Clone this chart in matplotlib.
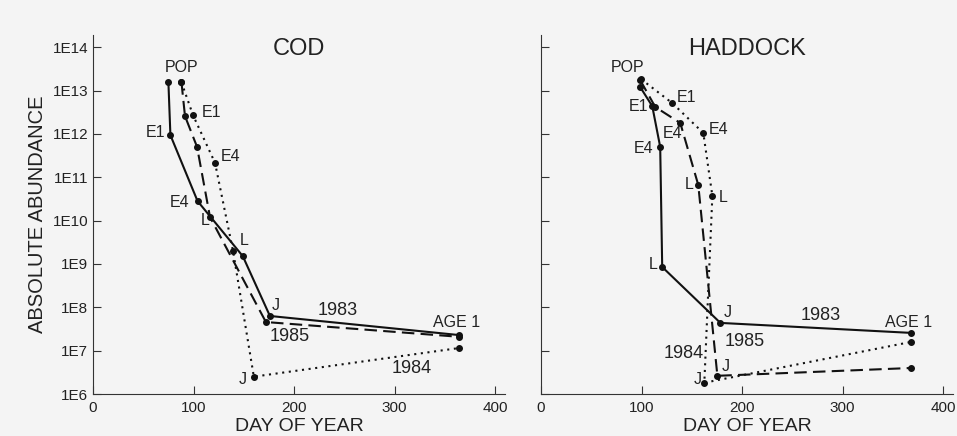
import matplotlib.pyplot as plt
import numpy as np

plt.rcParams['font.family'] = ['Liberation Sans', 'DejaVu Sans']

stages = ['POP', 'E1', 'E4', 'L', 'J', 'AGE 1']

# COD: day of year and log10 abundance per stage
cod_day_1983 = [75, 77, 104, 149, 176, 364]
cod_log_1983 = [13.19, 11.97, 10.45, 9.18, 7.80, 7.36]
cod_day_1985 = [88, 91.5, 103.5, 116.4, 172, 364]
cod_log_1985 = [13.19, 12.41, 11.70, 10.08, 7.66, 7.32]
cod_day_1984 = [88, 99.5, 121.4, 139.3, 160, 364]
cod_log_1984 = [13.19, 12.43, 11.33, 9.30, 6.40, 7.06]

# HADDOCK
had_day_1983 = [98.7, 110.7, 118.6, 120.6, 178.5, 368]
had_log_1983 = [13.08, 12.64, 11.70, 8.93, 7.64, 7.41]
had_day_1985 = [98.7, 113.7, 138.6, 156.5, 175.5, 368]
had_log_1985 = [13.24, 12.62, 12.25, 10.82, 6.42, 6.60]
had_day_1984 = [99.7, 130.6, 161.5, 170.5, 162.5, 368]
had_log_1984 = [13.26, 12.71, 12.02, 10.57, 6.26, 7.20]

# text labels (text, day, log10)
cod_labels = [('POP', 87.6, 13.52), ('E1', 61.7, 12.02), ('E1', 118, 12.50),
              ('E4', 137, 11.47), ('E4', 86.6, 10.41), ('L', 111.4, 10.01),
              ('L', 150, 9.55), ('J', 182, 8.03), ('AGE 1', 362, 7.66),
              ('J', 149, 6.33)]
cod_years = [('1983', 243, 7.92), ('1985', 196, 7.32), ('1984', 317, 6.58)]

had_labels = [('POP', 85.7, 13.54), ('E1', 96.7, 12.64), ('E1', 144.6, 12.85),
              ('E4', 131, 12.0), ('E4', 176.5, 12.09), ('E4', 101.7, 11.67),
              ('L', 147.6, 10.84), ('L', 181.5, 10.54), ('L', 111.7, 8.98),
              ('J', 185.4, 7.89), ('AGE 1', 366, 7.66), ('J', 183.4, 6.63),
              ('J', 155.5, 6.33)]
had_years = [('1983', 278, 7.80), ('1985', 203, 7.2), ('1984', 141.6, 6.93)]

ytick_exp = [6, 7, 8, 9, 10, 11, 12, 13, 14]
ytick_labels = ['1E%d' % e for e in ytick_exp]

bg = '#f4f4f4'
fig = plt.figure(figsize=(9.57, 4.36), dpi=100, facecolor=bg)
ax1 = fig.add_axes([0.0972, 0.0963, 0.4306, 0.8234])
ax2 = fig.add_axes([0.5653, 0.0963, 0.4306, 0.8234])

panels = [
    (ax1, 'COD', [(cod_day_1983, cod_log_1983, '-'), (cod_day_1985, cod_log_1985, (0, (6, 3))),
                  (cod_day_1984, cod_log_1984, (0, (1, 2.2)))], cod_labels, cod_years),
    (ax2, 'HADDOCK', [(had_day_1983, had_log_1983, '-'), (had_day_1985, had_log_1985, (0, (6, 3))),
                      (had_day_1984, had_log_1984, (0, (1, 2.2)))], had_labels, had_years),
]

for ax, title, series, labels, years in panels:
    ax.set_facecolor(bg)
    for day, logv, ls in series:
        ax.plot(day, 10 ** np.array(logv), color='#111111', linestyle=ls, lw=1.5,
                marker='o', markersize=4)
    for t, d, l in labels:
        ax.text(d, 10 ** l, t, fontsize=11.5, ha='center', va='center', color='#222222')
    for t, d, l in years:
        ax.text(d, 10 ** l, t, fontsize=13, ha='center', va='center', color='#222222')
    ax.set_yscale('log')
    ax.set_ylim(1e6, 10 ** 14.28)
    ax.set_xlim(0, 410)
    ax.set_yticks([10 ** e for e in ytick_exp])
    ax.set_yticklabels(ytick_labels if ax is ax1 else [])
    ax.minorticks_off()
    ax.set_xticks([0, 100, 200, 300, 400])
    ax.tick_params(direction='in', length=6, labelsize=11, color='#333333', labelcolor='#222222')
    ax.tick_params(axis='x', pad=5)
    for s in ['top', 'right']:
        ax.spines[s].set_visible(False)
    for s in ['left', 'bottom']:
        ax.spines[s].set_color('#333333')
    ax.set_xlabel('DAY OF YEAR', fontsize=14, labelpad=2, color='#222222')
    ax.text(0.5, 0.96, title, transform=ax.transAxes, fontsize=17, ha='center', va='center',
            color='#222222')

ax1.set_ylabel('ABSOLUTE ABUNDANCE', fontsize=14.5, color='#222222', labelpad=4)

plt.savefig('out.png', dpi=100, facecolor=bg)
